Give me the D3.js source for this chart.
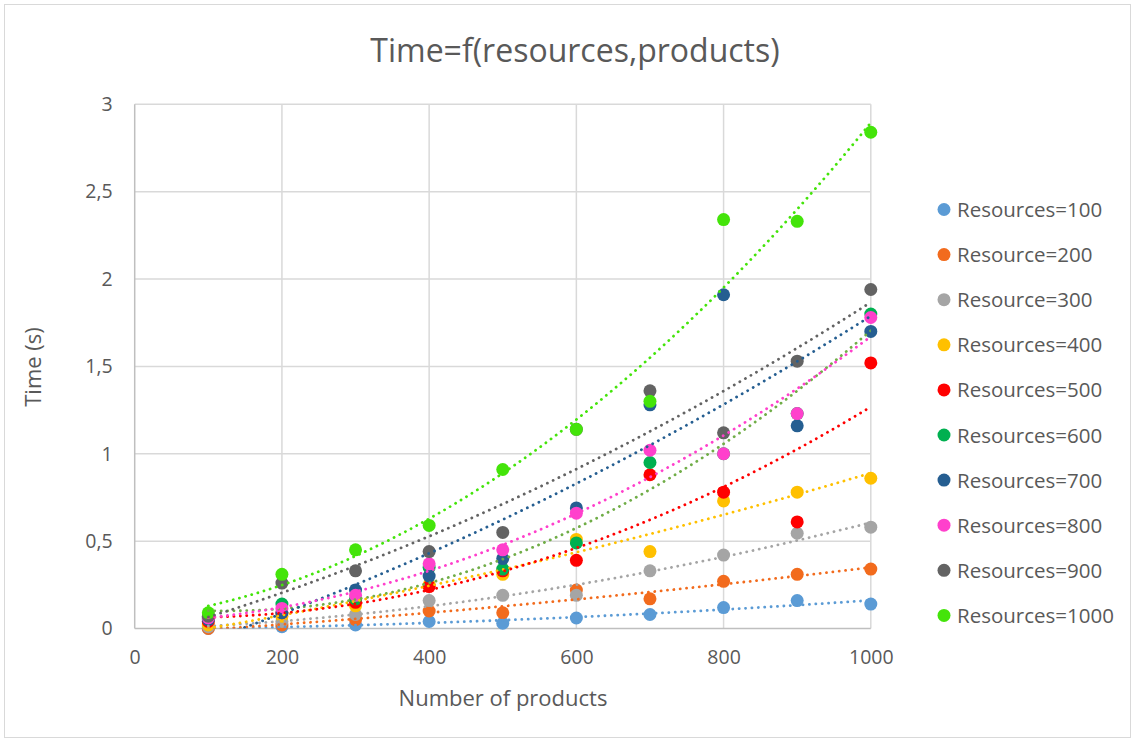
<!DOCTYPE html>
<html><head><meta charset="utf-8">
<script src="https://cdn.jsdelivr.net/npm/d3@7"></script>
<style>body{margin:0;background:#fff}svg{display:block}text{font-family:"Open Sans",sans-serif;fill:#595959}</style>
</head><body><svg id="c" width="1135" height="742"></svg>
<script>
const products = [100,200,300,400,500,600,700,800,900,1000];
const seriesNames = ["Resources=100","Resource=200","Resource=300","Resources=400","Resources=500","Resources=600","Resources=700","Resources=800","Resources=900","Resources=1000"];
const r100  = [0.00,0.01,0.02,0.04,0.03,0.06,0.08,0.12,0.16,0.14];
const r200  = [0.00,0.02,0.05,0.10,0.09,0.22,0.17,0.27,0.31,0.34];
const r300  = [0.01,0.04,0.08,0.16,0.19,0.19,0.33,0.42,0.545,0.58];
const r400  = [0.02,0.07,0.13,0.25,0.31,0.51,0.44,0.73,0.78,0.86];
const r500  = [0.04,0.09,0.15,0.24,0.33,0.39,0.88,0.78,0.61,1.52];
const r600  = [0.06,0.14,0.17,0.35,0.34,0.49,0.95,1.00,1.23,1.80];
const r700  = [0.05,0.09,0.22,0.30,0.40,0.69,1.28,1.91,1.16,1.70];
const r800  = [0.06,0.115,0.19,0.37,0.45,0.66,1.02,1.00,1.23,1.78];
const r900  = [0.07,0.26,0.33,0.44,0.55,1.14,1.36,1.12,1.53,1.94];
const r1000 = [0.09,0.31,0.45,0.59,0.91,1.14,1.30,2.34,2.33,2.84];
const xTicks = [0,200,400,600,800,1000];
const yTicks = [0,0.5,1,1.5,2,2.5,3];
const markerColors = ["#5B9BD5","#F26B1D","#A5A5A5","#FFC000","#FF0000","#00B050","#255E91","#FF40CC","#636363","#44E40A"];
const trendColors  = ["#5B9BD5","#F26B1D","#A5A5A5","#FFC000","#FF0000","#70AD47","#255E91","#FF40CC","#636363","#44E40A"];
const allSeries = [r100,r200,r300,r400,r500,r600,r700,r800,r900,r1000];

const svg = d3.select("#c");
svg.append("rect").attr("x",4.5).attr("y",4.5).attr("width",1126).attr("height",733)
  .attr("fill","#fff").attr("stroke","#D9D9D9");

const x = d3.scaleLinear().domain([0,1000]).range([134.7,870.8]);
const y = d3.scaleLinear().domain([0,3]).range([628.5,104.3]);

svg.append("defs").append("clipPath").attr("id","plot").append("rect")
  .attr("x",x(0)).attr("y",y(3)).attr("width",x(1000)-x(0)).attr("height",y(0)-y(3));

// grid
const g = svg.append("g");
g.selectAll(".vg").data(xTicks.slice(1)).join("line")
  .attr("x1",d=>x(d)).attr("x2",d=>x(d)).attr("y1",y(0)).attr("y2",y(3))
  .attr("stroke","#D9D9D9").attr("stroke-width",1.5);
g.selectAll(".hg").data(yTicks.slice(1)).join("line")
  .attr("x1",x(0)).attr("x2",x(1000)).attr("y1",d=>y(d)).attr("y2",d=>y(d))
  .attr("stroke","#D9D9D9").attr("stroke-width",1.5);
g.append("line").attr("x1",x(0)).attr("x2",x(1000)).attr("y1",y(0)).attr("y2",y(0)).attr("stroke","#BFBFBF").attr("stroke-width",1.5);
g.append("line").attr("x1",x(0)).attr("x2",x(0)).attr("y1",y(0)).attr("y2",y(3)).attr("stroke","#BFBFBF").attr("stroke-width",1.5);

const fmt = d => String(d).replace(".",",");
const xAxis = svg.append("g").attr("transform",`translate(0,${y(0)})`)
  .call(d3.axisBottom(x).tickValues(xTicks).tickFormat(fmt).tickSize(0).tickPadding(22));
const yAxis = svg.append("g").attr("transform",`translate(${x(0)},0)`)
  .call(d3.axisLeft(y).tickValues(yTicks).tickFormat(fmt).tickSize(0).tickPadding(22));
[xAxis,yAxis].forEach(a=>{a.select(".domain").remove();a.selectAll("text").style("font-size","19.5px").style("font-family","'Open Sans',sans-serif").attr("fill","#595959");});

// markers
allSeries.forEach((s,i)=>{
  svg.append("g").selectAll("circle").data(s).join("circle")
    .attr("cx",(d,j)=>x(products[j])).attr("cy",d=>y(d)).attr("r",6.5)
    .attr("fill",markerColors[i]);
});

// polynomial (order 2) trendlines by least squares
function quadFit(xs,ys){
  let S=[0,0,0,0,0],T=[0,0,0];
  xs.forEach((xv,k)=>{const yv=ys[k];let p=1;for(let e=0;e<5;e++){S[e]+=p;if(e<3)T[e]+=p*yv;p*=xv;}});
  const A=[[S[0],S[1],S[2],T[0]],[S[1],S[2],S[3],T[1]],[S[2],S[3],S[4],T[2]]];
  for(let c=0;c<3;c++){for(let r=c+1;r<3;r++){const f=A[r][c]/A[c][c];for(let k=c;k<4;k++)A[r][k]-=f*A[c][k];}}
  const b=[0,0,0];
  for(let r=2;r>=0;r--){let s=A[r][3];for(let k=r+1;k<3;k++)s-=A[r][k]*b[k];b[r]=s/A[r][r];}
  return xv=>b[0]+b[1]*xv+b[2]*xv*xv;
}
const line = d3.line().x(d=>x(d[0])).y(d=>y(d[1]));
const xs = d3.range(100,1000.01,5);
const tg = svg.append("g").attr("clip-path","url(#plot)");
allSeries.forEach((s,i)=>{
  const f = quadFit(products,s);
  tg.append("path").datum(xs.map(v=>[v,f(v)]))
    .attr("d",line).attr("fill","none").attr("stroke",trendColors[i])
    .attr("stroke-width",2.8).attr("stroke-linecap","round").attr("stroke-dasharray","0.1 6.3");
});

// titles
svg.append("text").attr("x",575).attr("y",62).attr("text-anchor","middle")
  .style("font-size","32px").text("Time=f(resources,products)");
svg.append("text").attr("transform","translate(41,367) rotate(-90)").attr("text-anchor","middle")
  .style("font-size","22px").text("Time (s)");
svg.append("text").attr("x",503).attr("y",706).attr("text-anchor","middle")
  .style("font-size","22px").text("Number of products");

// legend
const lg = svg.append("g").selectAll("g").data(seriesNames).join("g")
  .attr("transform",(d,i)=>`translate(944,${209.5+i*45.1})`);
lg.append("circle").attr("r",6.5).attr("fill",(d,i)=>markerColors[i]);
lg.append("text").attr("x",13).attr("y",7.5).style("font-size","20.5px").text(d=>d);
</script></body></html>
